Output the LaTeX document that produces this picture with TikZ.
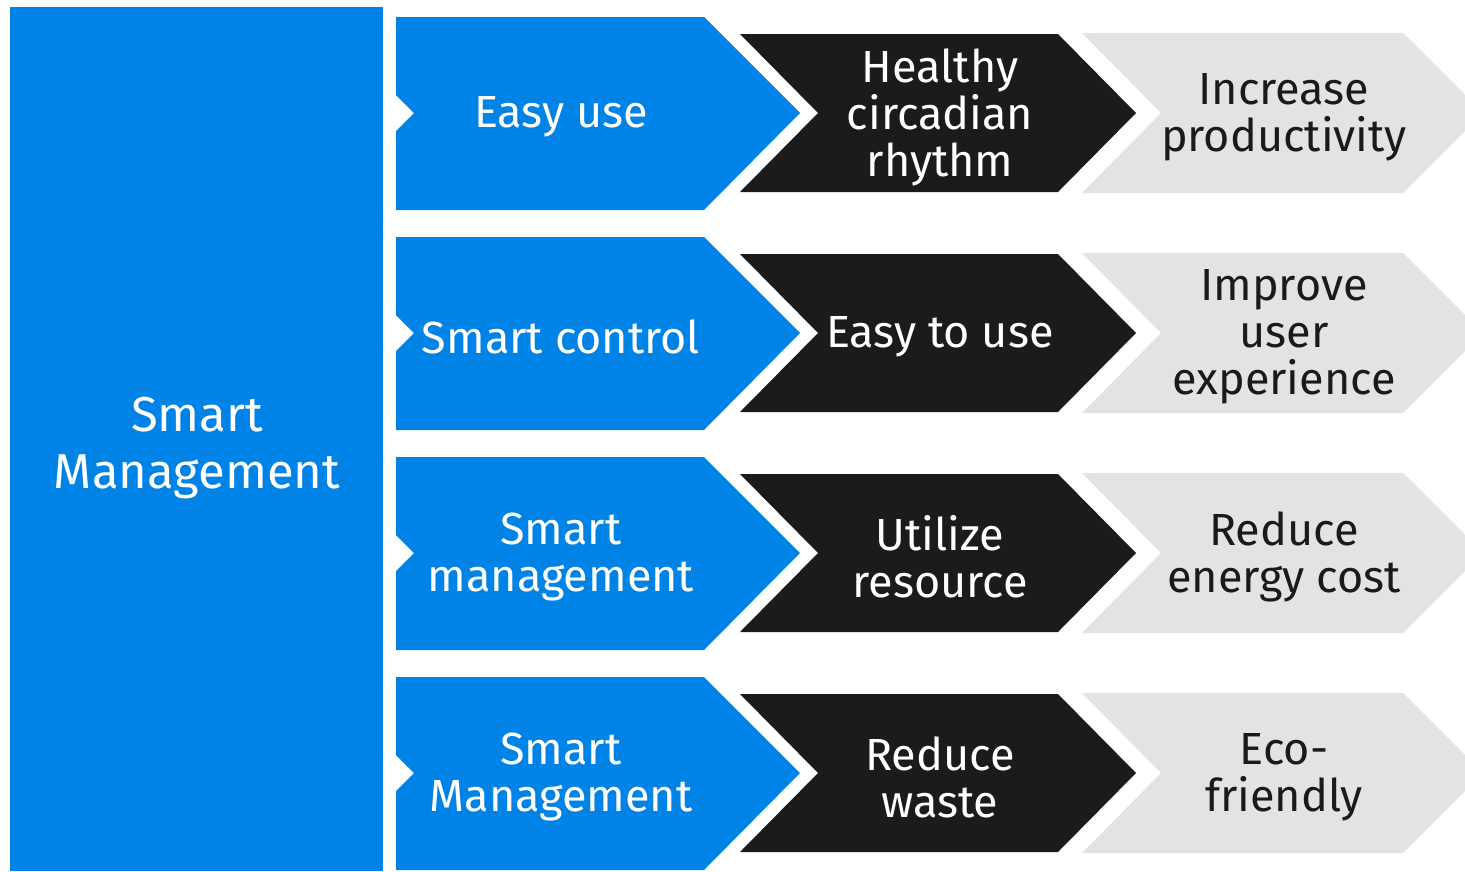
\documentclass[tikz,border=0pt]{standalone}
\usepackage{fontspec}
\setmainfont{Fira Sans}
\definecolor{cblue}{HTML}{0083E6}
\definecolor{cblack}{HTML}{1B1B1B}
\definecolor{cgray}{HTML}{E3E3E3}
\definecolor{ctext}{HTML}{1A1A1A}
\begin{document}
\begin{tikzpicture}[x=1pt,y=-1pt,
  lbl/.style={align=center,inner sep=0pt,font=\fontsize{45}{47}\selectfont},
  wlbl/.style={lbl,text=white},
  dlbl/.style={lbl,text=ctext}]
\useasboundingbox (0,0) rectangle (1465,871);
\clip (0,0) rectangle (1465,871);
\fill[cblue] (10,7) rectangle (383,871);
\node[wlbl,font=\fontsize{49}{57}\selectfont] (main) at (197,448) {Smart\\Management};
\foreach \cy/\i/\a/\b/\c in {
  113/1/{Easy use}/{Healthy\\circadian\\rhythm}/{Increase\\productivity},
  333/2/{Smart control}/{Easy to use}/{Improve\\user\\experience},
  553/3/{Smart\\management}/{Utilize\\resource}/{Reduce\\energy cost},
  773/4/{Smart\\Management}/{Reduce\\waste}/{Eco-\\friendly}}{
  \fill[cblue] (396,\cy-96) -- (704,\cy-96) -- (800,\cy) -- (704,\cy+97) -- (396,\cy+97)
     -- (396,\cy+18) -- (414,\cy) -- (396,\cy-18) -- cycle;
  \fill[cblack] (740,\cy-79) -- (1058,\cy-79) -- (1136,\cy) -- (1058,\cy+79) -- (740,\cy+79) -- (818,\cy) -- cycle;
  \fill[cgray] (1082,\cy-80) -- (1403,\cy-80) -- (1483,\cy) -- (1403,\cy+80) -- (1082,\cy+80) -- (1161,\cy) -- cycle;
  \node[wlbl] (a\i) at (561,\cy+4) {\a};
  \node[wlbl] (b\i) at (940,\cy+4) {\b};
  \node[dlbl] (c\i) at (1284,\cy+4) {\c};
}
\end{tikzpicture}
\end{document}
